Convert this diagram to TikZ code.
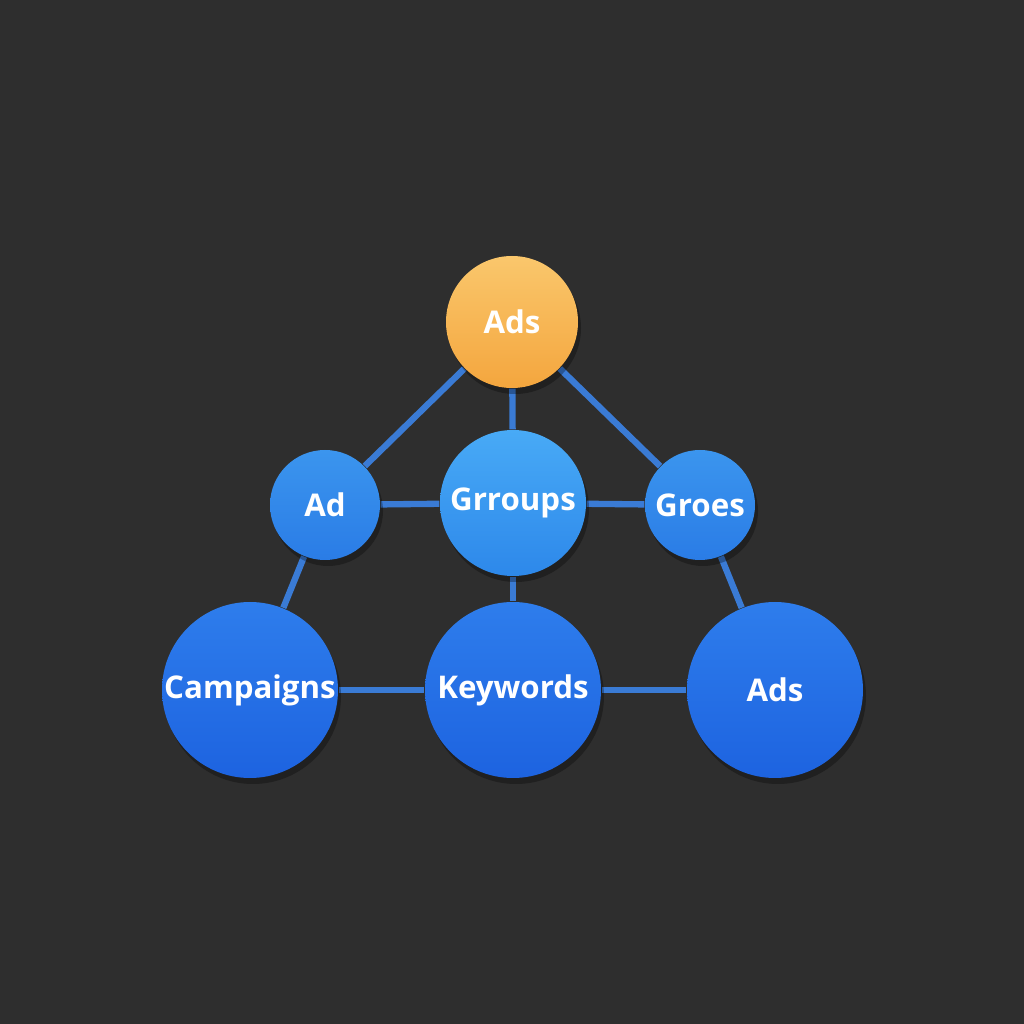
\documentclass[tikz,border=0pt]{standalone}
\usepackage{fontspec}
\setmainfont{Open Sans}
\usepackage{tikz}
\usetikzlibrary{positioning,backgrounds,shadows}
\usepackage{xcolor}
\definecolor{bgdark}{HTML}{2E2E2E}
\definecolor{linkblue}{HTML}{3A7BD5}
\definecolor{orangetop}{HTML}{FAC76C}
\definecolor{orangebot}{HTML}{F4A63E}
\definecolor{bluetop}{HTML}{3B95EE}
\definecolor{bluebot}{HTML}{2A7CE6}
\definecolor{lighttop}{HTML}{48AAF6}
\definecolor{lightbot}{HTML}{2D88EA}
\definecolor{deeptop}{HTML}{2E7DEC}
\definecolor{deepbot}{HTML}{1D63E0}

\begin{document}
\begin{tikzpicture}[
    bubble/.style={circle,inner sep=0pt,
        drop shadow={fill=black,opacity=0.3,shadow xshift=0.03,shadow yshift=-0.06}},
    caption/.style={text=white,font=\fontsize{8.9}{11}\selectfont\bfseries},
    topbubble/.style={bubble,top color=orangetop,bottom color=orangebot,minimum size=1.32cm},
    smallbubble/.style={bubble,top color=bluetop,bottom color=bluebot,minimum size=1.1cm},
    midbubble/.style={bubble,top color=lighttop,bottom color=lightbot,minimum size=1.46cm},
    bigbubble/.style={bubble,top color=deeptop,bottom color=deepbot,minimum size=1.76cm},
    link/.style={linkblue,line width=1.8pt}
]
\useasboundingbox (0,0) rectangle (10.24,10.24);
% top
\node[topbubble,label={[caption]center:Ads}] (adstop) at (5.12,7.02) {};
% middle row
\node[smallbubble,label={[caption]center:Ad}] (ad) at (3.25,5.19) {};
\node[midbubble,label={[caption]center:Grroups}] (grroups) at (5.13,5.21) {};
\node[smallbubble,label={[caption]center:Groes}] (groes) at (7.00,5.19) {};
% bottom row
\node[bigbubble,label={[caption]center:Campaigns}] (campaigns) at (2.50,3.34) {};
\node[bigbubble,label={[caption]center:Keywords}] (keywords) at (5.13,3.34) {};
\node[bigbubble,label={[caption]center:Ads}] (adsbottom) at (7.75,3.34) {};
\begin{scope}[on background layer]
\fill[bgdark] (0,0) rectangle (10.24,10.24);
\draw[link] (adstop) -- (ad);
\draw[link] (adstop) -- (grroups);
\draw[link] (adstop) -- (groes);
\draw[link] (ad) -- (grroups);
\draw[link] (grroups) -- (groes);
\draw[link] (ad) -- (campaigns);
\draw[link] (grroups) -- (keywords);
\draw[link] (groes) -- (adsbottom);
\draw[link] (campaigns) -- (keywords);
\draw[link] (keywords) -- (adsbottom);
\end{scope}
\end{tikzpicture}
\end{document}
